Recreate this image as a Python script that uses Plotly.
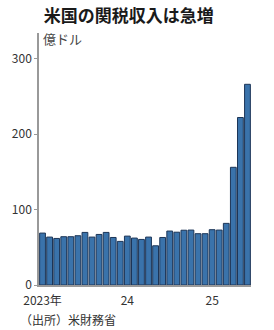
import plotly.graph_objects as go

months = list(range(30))
values = [68.8, 63.5, 61.7, 64, 64, 65.3, 69.7, 63.5, 67, 69.7, 63, 57.8,
          64.8, 62.2, 60.4, 63.5, 52, 63, 71.5, 70, 72.6, 72.8, 68, 68,
          73.3, 72.8, 81.7, 156, 222, 266]
tick_pos = [0, 12, 24]
tick_text = ["2023年", "24", "25"]
y_ticks = [0, 100, 200, 300]

FONT = "Noto Sans CJK JP"

fig = go.Figure(go.Bar(
    x=months, y=values,
    marker=dict(color="#3a73ab", line=dict(color="#1c3557", width=1)),
))

fig.update_layout(
    width=274, height=330,
    margin=dict(l=32, r=23, t=33, b=45),
    paper_bgcolor="white", plot_bgcolor="white",
    bargap=0.18,
    showlegend=False,
    font=dict(family=FONT, color="#333", size=12),
    title=dict(text="<b>米国の関税収入は急増</b>", x=0.47, xanchor="center",
               y=0.952, yanchor="middle", font=dict(size=17, color="#1a1a1a", family=FONT)),
    xaxis=dict(range=[-0.5, 29.5], tickmode="array", tickvals=tick_pos, ticktext=tick_text,
               showline=True, linecolor="#999", linewidth=1.5, ticks="", showgrid=False,
               zeroline=False, ticklabelstandoff=4, tickfont=dict(size=12, color="#333")),
    yaxis=dict(range=[0, 334], tickmode="array", tickvals=y_ticks,
               showline=True, linecolor="#999", linewidth=1.5, ticks="outside", ticklen=3,
               tickcolor="#999", showgrid=False, zeroline=False,
               tickfont=dict(size=12, color="#333")),
    annotations=[
        dict(text="億ドル", xref="paper", yref="paper", x=0.01, y=1.025, xanchor="left",
             yanchor="top", showarrow=False, font=dict(size=13, color="#444")),
        dict(text="（出所）米財務省", xref="paper", yref="paper", x=-0.1, y=-0.135,
             xanchor="left", yanchor="middle", showarrow=False, font=dict(size=12, color="#333")),
    ],
)

fig.write_html("out.html")
